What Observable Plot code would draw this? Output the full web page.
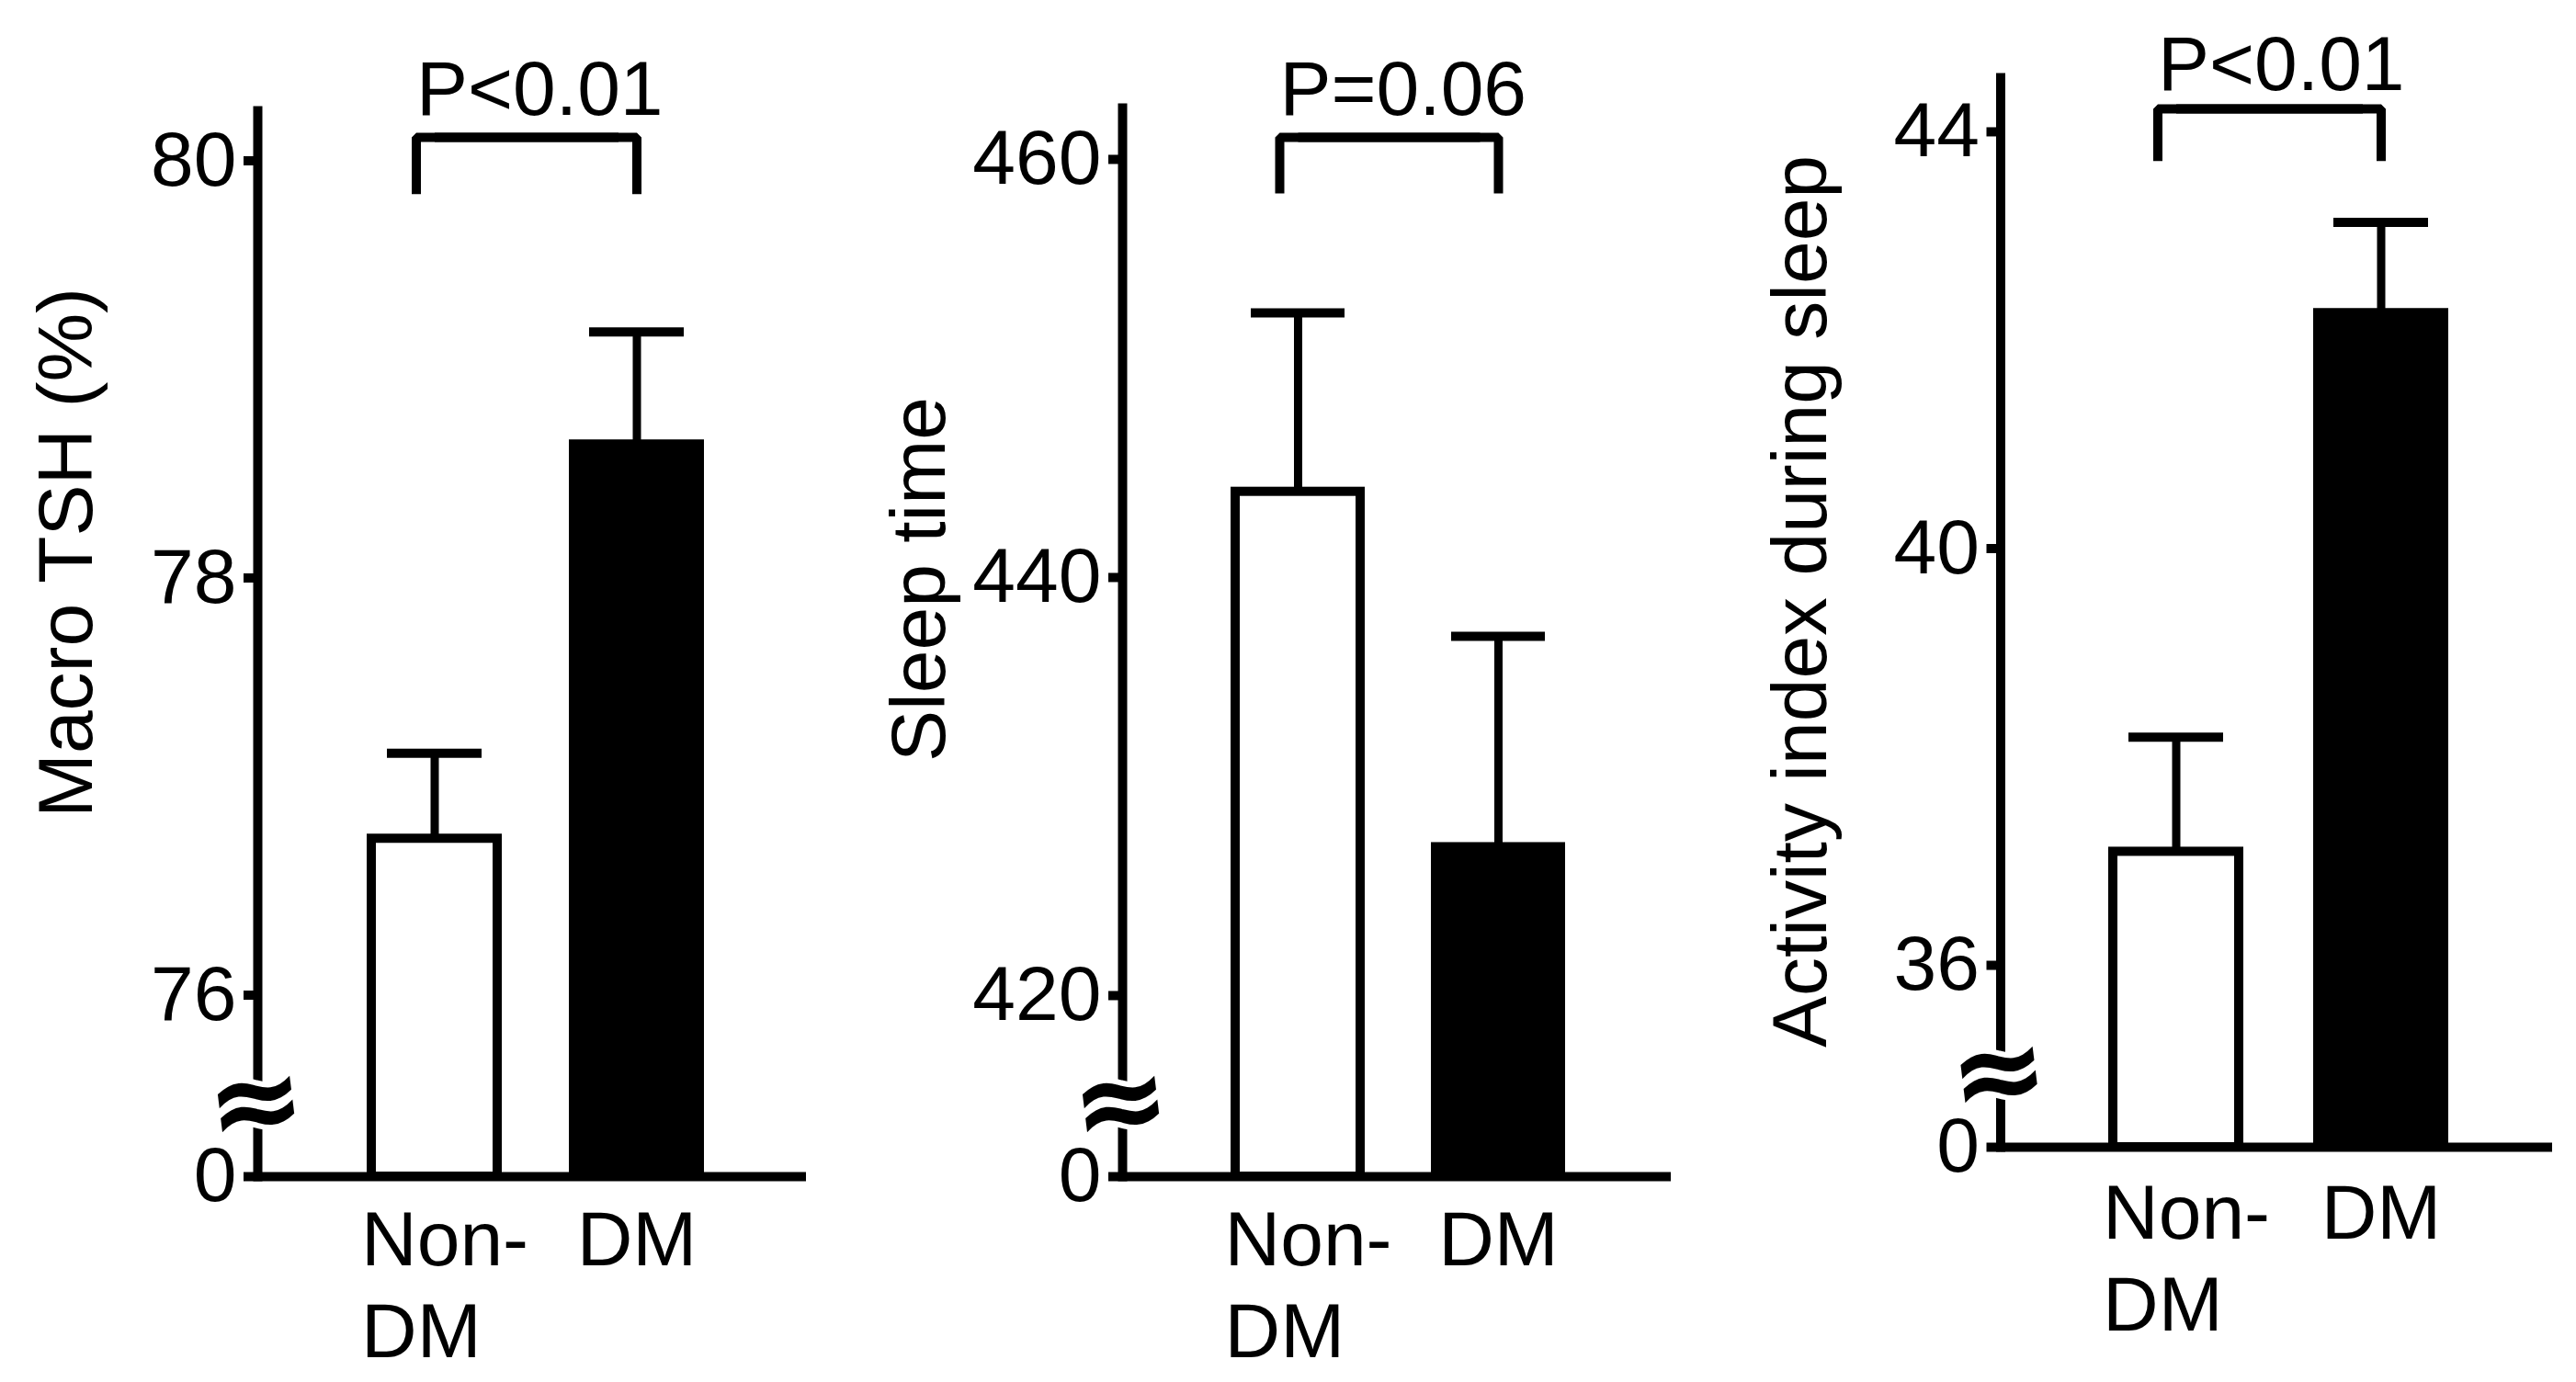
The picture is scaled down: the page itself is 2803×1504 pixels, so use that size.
<!DOCTYPE html>
<html>
<head>
<meta charset="utf-8">
<script src="https://cdn.jsdelivr.net/npm/d3@7"></script>
<script src="https://cdn.jsdelivr.net/npm/@observablehq/plot@0.6"></script>
<style>
  html, body { margin: 0; padding: 0; background: #fff; }
  #wrap { position: relative; width: 2803px; height: 1504px; background: #fff; overflow: hidden; }
  .panel { position: absolute; top: 0; }
</style>
</head>
<body>
<div id="wrap"></div>
<script>
// ---- data ----
const groups = ["Non-DM", "DM"];
const groupLabels = ["Non-\nDM", "DM"];
const groupFills = ["white", "black"];

const tshTitle = "Macro TSH (%)";
const tshMean = [76.75, 78.64];
const tshSem = [0.41, 0.54];
const tshTicks = [76, 78, 80];
const tshP = "P<0.01";

const sleepTitle = "Sleep time";
const sleepMean = [444.1, 427.1];
const sleepSem = [8.56, 10.09];
const sleepTicks = [420, 440, 460];
const sleepP = "P=0.06";

const actTitle = "Activity index during sleep";
const actMean = [37.09, 42.26];
const actSem = [1.10, 0.87];
const actTicks = [36, 40, 44];
const actP = "P<0.01";

// ---- layout (per panel) ----
const panels = [
  {title: tshTitle, mean: tshMean, sem: tshSem, ticks: tshTicks, p: tshP,
   left: 0, width: 940, mL: 280, mR: 63, mT: 120, mB: 224,
   yDomain: [75.13, 80.24], xRange: [403.5, 760.5], pad: 0.3773,
   labelDx: -207, labelDy: -99, pY: 80.218, brTop: 80.112, brBot: 79.84, xlDy: 26},
  {title: sleepTitle, mean: sleepMean, sem: sleepSem, ticks: sleepTicks, p: sleepP,
   left: 940, width: 940, mL: 281, mR: 62, mT: 117, mB: 224,
   yDomain: [411.34, 462.46], xRange: [403.5, 759.5], pad: 0.3744,
   labelDx: -220, labelDy: -68.5, pY: 462.11, brTop: 461.05, brBot: 458.37, xlDy: 26},
  {title: actTitle, mean: actMean, sem: actSem, ticks: actTicks, p: actP,
   left: 1880, width: 923, mL: 296.5, mR: 26, mT: 84, mB: 256,
   yDomain: [34.254, 44.52], xRange: [418.5, 778.5], pad: 0.3857,
   labelDx: -216.5, labelDy: -12, pY: 44.405, brTop: 44.22, brBot: 43.72, xlDy: 29}
];

const FONT = "'Liberation Sans', Arial, Helvetica, sans-serif";
const FS = 84;
const LW = 10;

const wrap = document.getElementById("wrap");

for (const P of panels) {
  const base = P.yDomain[0];
  const rows = groups.map((g, i) => ({g, label: groupLabels[i], fill: groupFills[i], mean: P.mean[i], top: P.mean[i] + P.sem[i]}));
  const bracketLeft = [
    {g: groups[0], y: P.brBot}, {g: groups[0], y: P.brTop}, {g: groups[1], y: P.brTop}
  ];
  const bracketRight = [
    {g: groups[0], y: P.brTop}, {g: groups[1], y: P.brTop}, {g: groups[1], y: P.brBot}
  ];

  const chart = Plot.plot({
    width: P.width,
    height: 1504,
    marginLeft: P.mL,
    marginRight: P.mR,
    marginTop: P.mT,
    marginBottom: P.mB,
    style: {fontFamily: FONT, fontSize: FS + "px", color: "black", background: "white", overflow: "visible"},
    x: {type: "band", domain: groups, range: P.xRange, paddingInner: P.pad, paddingOuter: 0, axis: null},
    y: {domain: P.yDomain, axis: null},
    color: {type: "identity"},
    marks: [
      Plot.barY(rows, {x: "g", y1: base, y2: "mean", fill: "fill", stroke: "black", strokeWidth: LW}),
      Plot.ruleX(rows, {x: "g", y1: "mean", y2: "top", stroke: "black", strokeWidth: 9}),
      Plot.tickY(rows, {x: "g", y: "top", stroke: "black", strokeWidth: LW, insetLeft: 17, insetRight: 17}),
      Plot.frame({anchor: "left", stroke: "black", strokeWidth: LW}),
      Plot.ruleY([base], {stroke: "black", strokeWidth: LW}),
      Plot.axisY({
        ticks: [base, ...P.ticks],
        tickFormat: d => d === base ? "0" : String(d),
        tickSize: 15, tickPadding: 8, strokeWidth: LW,
        fontSize: FS, fill: "black", stroke: "black", label: null
      }),
      // axis break mark
      Plot.text(["\u2248"], {
        frameAnchor: "bottom-left", dy: -80, dx: -2, text: d => d,
        fontFamily: "'DejaVu Sans', sans-serif",
        fontSize: 128, fontWeight: "bold", rotate: -7,
        fill: "black", stroke: "white", strokeWidth: 12, paintOrder: "stroke",
        textAnchor: "middle", lineAnchor: "middle"
      }),
      // y-axis title
      Plot.text([P.title], {
        frameAnchor: "left", text: d => d, rotate: -90, dx: P.labelDx, dy: P.labelDy,
        fontSize: FS, fill: "black", textAnchor: "middle", lineAnchor: "middle"
      }),
      // x labels: wrapped label left-aligned, single-line label centered
      Plot.text(rows, {
        filter: d => d.label.includes("\n"),
        x: "g", text: "label", frameAnchor: "bottom", dy: P.xlDy, dx: -80,
        textAnchor: "start", lineAnchor: "top", lineHeight: 1.19, fontSize: FS, fill: "black"
      }),
      Plot.text(rows, {
        filter: d => !d.label.includes("\n"),
        x: "g", text: "label", frameAnchor: "bottom", dy: P.xlDy,
        textAnchor: "middle", lineAnchor: "top", lineHeight: 1.19, fontSize: FS, fill: "black"
      }),
      // significance bracket
      Plot.line(bracketLeft, {x: "g", y: "y", dx: -20, stroke: "black", strokeWidth: LW, strokeLinejoin: "miter", strokeLinecap: "butt", curve: "linear"}),
      Plot.line(bracketRight, {x: "g", y: "y", stroke: "black", strokeWidth: LW, strokeLinejoin: "miter", strokeLinecap: "butt", curve: "linear"}),
      Plot.text([P.p], {
        x: () => groups[0], y: () => P.pY, text: d => d, dx: -20,
        textAnchor: "start", lineAnchor: "bottom", fontSize: FS, fill: "black"
      })
    ]
  });

  const div = document.createElement("div");
  div.className = "panel";
  div.style.left = P.left + "px";
  div.appendChild(chart);
  wrap.appendChild(div);
}
</script>
</body>
</html>
